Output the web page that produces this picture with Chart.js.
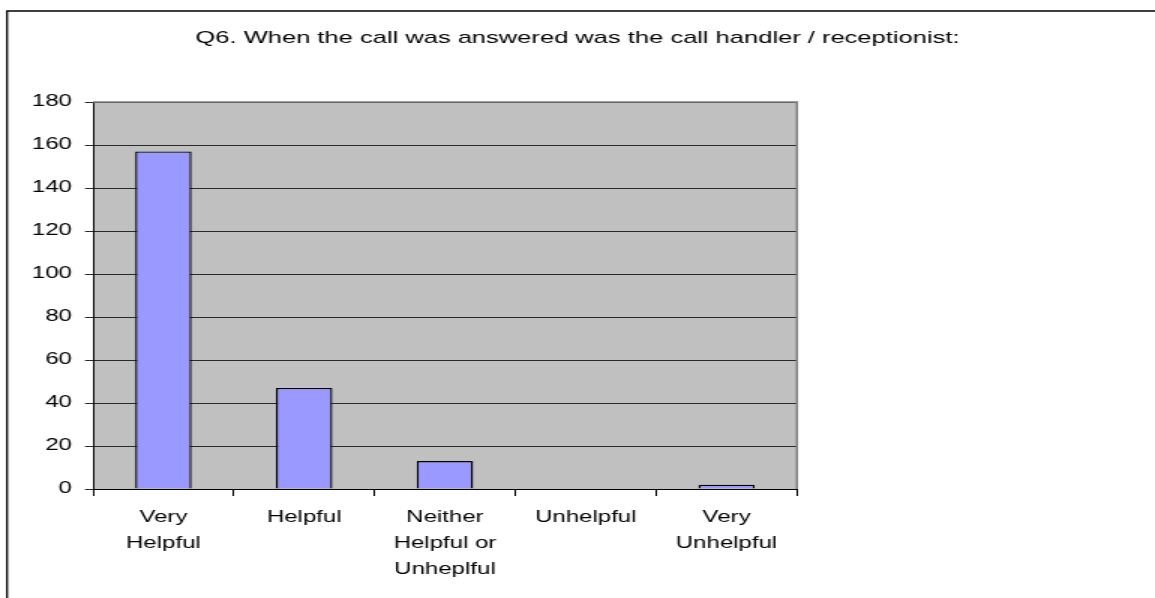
<!DOCTYPE html>
<html>
<head>
<meta charset="utf-8">
<script src="https://cdn.jsdelivr.net/npm/chart.js@4"></script>
<style>
  html, body { margin: 0; padding: 0; background: #fff; }
  #wrap { width: 1155px; height: 598px; overflow: hidden; }
</style>
</head>
<body>
<div id="wrap">
  <!-- drawn at 770 wide and stretched to 1155, like the original picture -->
  <canvas id="chart" width="770" height="598" style="width:1155px;height:598px;"></canvas>
</div>
<script>
// chart data
const titleText = "Q6. When the call was answered was the call handler / receptionist:";
const categories = [
  ["Very", "Helpful"],
  ["Helpful"],
  ["Neither", "Helpful or", "Unheplful"],
  ["Unhelpful"],
  ["Very", "Unhelpful"]
];
const counts = [157, 47, 13, 0, 2];
const yTicks = [0, 20, 40, 60, 80, 100, 120, 140, 160, 180];

const FONT = "'Liberation Sans', Arial, sans-serif";

// grey plot area, outer frame and title
const decorations = {
  id: "decorations",
  beforeDraw(chart) {
    const { ctx, chartArea: a } = chart;
    ctx.save();
    ctx.fillStyle = "#fff";
    ctx.fillRect(0, 0, chart.width, chart.height);
    // frame (runs off the right and bottom of the picture)
    ctx.strokeStyle = "#000";
    ctx.lineWidth = 1.3;
    ctx.beginPath();
    ctx.moveTo(4.7, chart.height + 2);
    ctx.lineTo(4.7, 11);
    ctx.lineTo(chart.width + 2, 11);
    ctx.stroke();
    // plot background
    ctx.fillStyle = "#c0c0c0";
    ctx.fillRect(a.left, a.top, a.right - a.left, a.bottom - a.top);
    // title
    ctx.fillStyle = "#000";
    ctx.font = "17px " + FONT;
    ctx.textAlign = "center";
    ctx.textBaseline = "middle";
    ctx.fillText(titleText, chart.width / 2, 38);
    ctx.restore();
  },
  afterDatasetsDraw(chart) {
    const { ctx, chartArea: a } = chart;
    ctx.save();
    ctx.strokeStyle = "#808080";
    ctx.lineWidth = 1.5;
    ctx.beginPath();
    ctx.moveTo(a.left, a.top);
    ctx.lineTo(a.right, a.top);
    ctx.lineTo(a.right, a.bottom);
    ctx.stroke();
    ctx.restore();
  }
};

new Chart(document.getElementById("chart"), {
  type: "bar",
  data: {
    labels: categories,
    datasets: [{
      data: counts,
      backgroundColor: "#9999ff",
      borderColor: "#000",
      borderWidth: 1.4,
      barPercentage: 0.4,
      categoryPercentage: 1
    }]
  },
  options: {
    responsive: false,
    animation: false,
    events: [],
    layout: { padding: { top: 102, right: 238.7, left: 0, bottom: 0 } },
    plugins: {
      legend: { display: false },
      title: { display: false },
      tooltip: { enabled: false }
    },
    scales: {
      x: {
        grid: {
          offset: true,
          drawOnChartArea: false,
          drawTicks: true,
          tickLength: 7,
          color: "#000",
          lineWidth: 1
        },
        border: { color: "#000", width: 1 },
        ticks: {
          color: "#000",
          font: { family: FONT, size: 16, lineHeight: 1.625 },
          padding: 9,
          maxRotation: 0,
          autoSkip: false
        },
        afterFit(scale) { scale.height = 598 - 489; }
      },
      y: {
        min: 0,
        max: 180,
        afterBuildTicks(scale) { scale.ticks = yTicks.map(v => ({ value: v })); },
        grid: {
          color: "#2a2a2a",
          lineWidth: 1,
          drawTicks: true,
          tickLength: 5.3
        },
        border: { color: "#000", width: 1 },
        ticks: {
          color: "#000",
          font: { family: FONT, size: 16 },
          padding: 8.7
        },
        afterFit(scale) { scale.width = 62; }
      }
    }
  },
  plugins: [decorations]
});
</script>
</body>
</html>
